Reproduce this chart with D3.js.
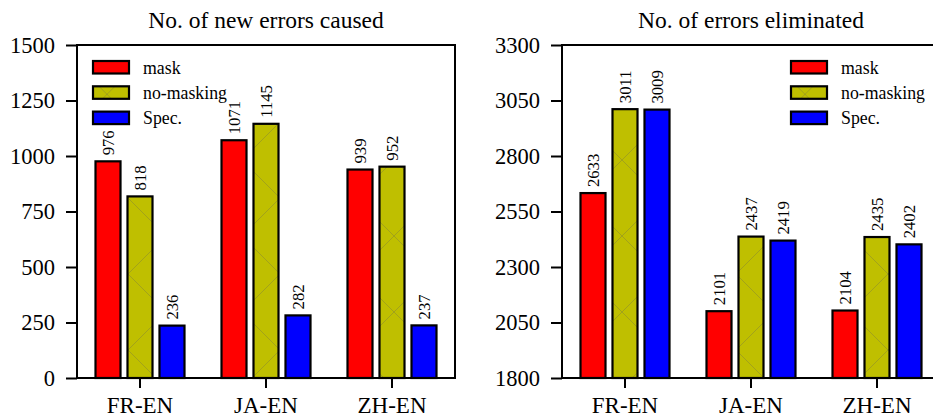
<!DOCTYPE html>
<html>
<head>
<meta charset="utf-8">
<script src="https://cdn.jsdelivr.net/npm/d3@7"></script>
<style>
  body { margin: 0; background: #fff; }
  svg text { font-family: "Liberation Serif", "Times New Roman", serif; fill: #000; }
</style>
</head>
<body>
<svg id="chart" width="933" height="417"></svg>
<script>
// data
const pairs = ["FR-EN", "JA-EN", "ZH-EN"];
const seriesNames = ["mask", "no-masking", "Spec."];
const newErrMask = [976, 1071, 939];
const newErrNoMask = [818, 1145, 952];
const newErrSpec = [236, 282, 237];
const elimMask = [2633, 2101, 2104];
const elimNoMask = [3011, 2437, 2435];
const elimSpec = [3009, 2419, 2402];
const newErrTicks = [0, 250, 500, 750, 1000, 1250, 1500];
const elimTicks = [1800, 2050, 2300, 2550, 2800, 3050, 3300];

const colors = { "mask": "#ff0000", "no-masking": "#bfbf00", "Spec.": "#0000ff" };

const svg = d3.select("#chart");

// big faint "x" hatch for the olive bars
const defs = svg.append("defs");
const pat = defs.append("pattern")
    .attr("id", "hatchX")
    .attr("patternUnits", "userSpaceOnUse")
    .attr("x", 14).attr("y", 8)
    .attr("width", 76)
    .attr("height", 76);
pat.append("rect").attr("width", 76).attr("height", 76).attr("fill", colors["no-masking"]);
pat.append("path")
    .attr("d", "M0,0L76,76M76,0L0,76")
    .attr("stroke", "#9a9a22")
    .attr("stroke-width", 0.8)
    .attr("fill", "none");

function fillFor(name) {
    return name === "no-masking" ? "url(#hatchX)" : colors[name];
}

function drawPanel(opts) {
    let left = opts.left, right = opts.left + 378, top = 45, bottom = 378;
    let g = svg.append("g");

    let x0 = d3.scaleBand().domain(pairs).range([left, right]).padding(0);
    let x1 = d3.scaleBand().domain(seriesNames).range([-45.5, 45.5]).paddingInner(0.156);
    let y = d3.scaleLinear().domain(opts.domain).range([bottom, top]);

    let rows = [];
    pairs.forEach((p, i) => {
        seriesNames.forEach((s, j) => {
            rows.push({ pair: p, series: s, value: opts.values[j][i] });
        });
    });

    let bars = g.selectAll(".bar").data(rows).enter().append("g").attr("class", "bar");
    bars.append("rect")
        .attr("x", d => x0(d.pair) + x0.bandwidth() / 2 + x1(d.series) + 1)
        .attr("y", d => y(d.value))
        .attr("width", x1.bandwidth() - 2)
        .attr("height", d => y(opts.domain[0]) - y(d.value))
        .attr("fill", d => fillFor(d.series))
        .attr("stroke", "#000")
        .attr("stroke-width", 2.2);

    bars.append("text")
        .attr("transform", d => {
            let cx = x0(d.pair) + x0.bandwidth() / 2 + x1(d.series) + x1.bandwidth() / 2 + 6;
            return "translate(" + cx + "," + (y(d.value) - 6) + ") rotate(-90)";
        })
        .style("font-size", "16.7px")
        .text(d => d.value);

    // axes
    let yAxis = d3.axisLeft(y).tickValues(opts.ticks).tickFormat(d3.format("d"))
        .tickSize(11).tickSizeOuter(0).tickPadding(11);
    let ya = g.append("g").attr("transform", "translate(" + left + ",0)").call(yAxis);
    ya.select(".domain").remove();
    ya.selectAll("line").attr("stroke-width", 2);
    ya.selectAll("text").style("font-size", "22.5px").attr("dy", "0.33em");

    let xAxis = d3.axisBottom(x0).tickSize(10).tickSizeOuter(0).tickPadding(9);
    let xa = g.append("g").attr("transform", "translate(0," + bottom + ")").call(xAxis);
    xa.select(".domain").remove();
    xa.selectAll("line").attr("stroke-width", 2);
    xa.selectAll("text").style("font-size", "23px").attr("dy", "0.71em");

    // frame
    g.append("rect")
        .attr("x", left).attr("y", top)
        .attr("width", right - left).attr("height", bottom - top)
        .attr("fill", "none").attr("stroke", "#000").attr("stroke-width", 2);

    g.append("text")
        .attr("x", (left + right) / 2).attr("y", 28)
        .attr("text-anchor", "middle")
        .style("font-size", "23.5px")
        .text(opts.title);

    // legend
    let lg = g.append("g").attr("transform", "translate(" + opts.legendX + "," + 61 + ")");
    let items = lg.selectAll(".item").data(seriesNames).enter().append("g")
        .attr("transform", (d, i) => "translate(0," + i * 25.3 + ")");
    items.append("rect")
        .attr("width", 36).attr("height", 12.5)
        .attr("fill", d => fillFor(d))
        .attr("stroke", "#000").attr("stroke-width", 2.2);
    items.append("text")
        .attr("x", 50).attr("y", 6.5).attr("dy", "0.35em")
        .style("font-size", "17.8px")
        .text(d => d);
}

drawPanel({
    left: 77, domain: [0, 1500], ticks: newErrTicks,
    values: [newErrMask, newErrNoMask, newErrSpec],
    title: "No. of new errors caused", legendX: 93
});
drawPanel({
    left: 562, domain: [1800, 3300], ticks: elimTicks,
    values: [elimMask, elimNoMask, elimSpec],
    title: "No. of errors eliminated", legendX: 791
});
</script>
</body>
</html>
